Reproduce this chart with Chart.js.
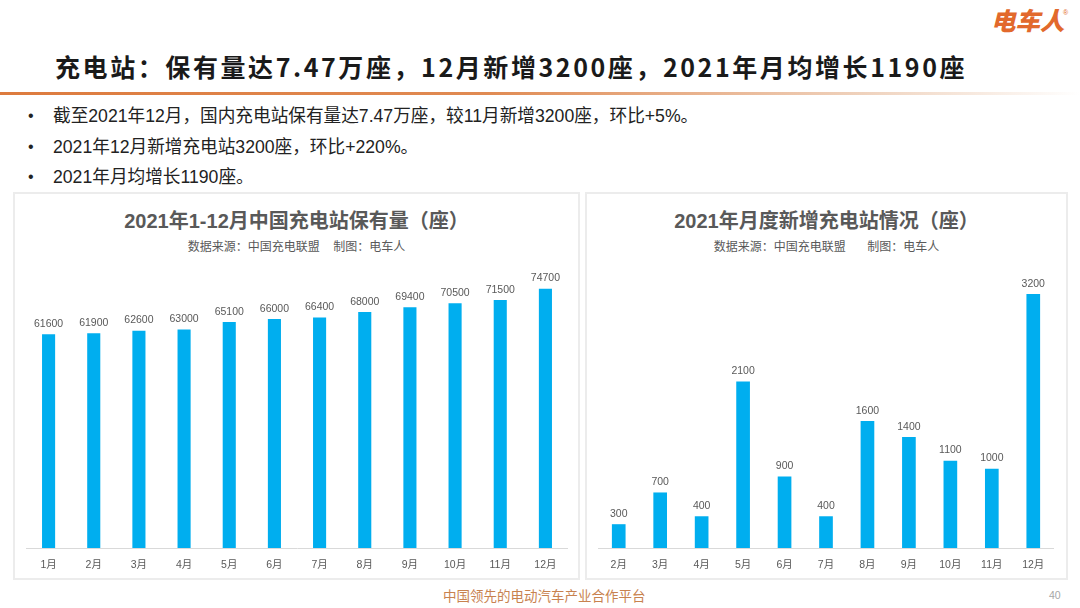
<!DOCTYPE html>
<html>
<head>
<meta charset="utf-8">
<script src="https://cdn.jsdelivr.net/npm/chart.js@4"></script>
<style>
  html, body { margin: 0; padding: 0; background: #fff; }
  body { width: 1080px; height: 608px; position: relative; overflow: hidden; font-family: "Liberation Sans", "Noto Sans CJK SC", sans-serif; }
  .abs { position: absolute; white-space: nowrap; }
  #logo { left: 991px; top: 2px; font: italic 900 24.5px "Noto Sans CJK SC"; color: #e2692c; }
  #logo sup { font: 7px "Liberation Sans"; position: absolute; left: 72px; top: 7px; }
  #pageTitle { left: 55px; top: 48px; font: 700 25px "Noto Sans CJK SC"; color: #1a1a1a; letter-spacing: 2.58px; line-height: 36px; }
  #rule { left: 0; top: 92px; width: 1080px; height: 3px; background: linear-gradient(to right, #dd7b3e 0%, #e08a52 45%, #efd2bd 80%, #fff 100%); }
  .bullet { left: 53px; font-size: 17.65px; color: #222; line-height: 22px; font-family: "Liberation Sans", "Noto Sans CJK SC"; }
  .dot { left: 28px; font-size: 16px; color: #222; line-height: 22px; }
  .panel { border: 2px solid #ececec; box-sizing: border-box; top: 192px; height: 388px; }
  #panelA { left: 13px; width: 567px; }
  #panelB { left: 585px; width: 483px; }
  .chartTitle { font: 700 20px "Liberation Sans", "Noto Sans CJK SC"; color: #595959; top: 208px; line-height: 26px; text-align: center; }
  .chartSub { font-size: 12px; color: #595959; top: 239px; line-height: 16px; text-align: center; }
  canvas { position: absolute; }
  #slogan { left: 443px; top: 589px; font-size: 13.5px; color: #c8824f; line-height: 16px; }
  #pageNo { left: 1049px; top: 588px; font-size: 10.5px; color: #a6a6a6; line-height: 14px; }
</style>
</head>
<body>
<div class="abs" id="logo">电车人<sup>®</sup></div>
<div class="abs" id="pageTitle">充电站：保有量达7.47万座，12月新增3200座，2021年月均增长1190座</div>
<div class="abs" id="rule"></div>

<div class="abs dot" style="top:105px">•</div>
<div class="abs bullet" style="top:105px">截至2021年12月，国内充电站保有量达7.47万座，较11月新增3200座，环比+5%。</div>
<div class="abs dot" style="top:136px">•</div>
<div class="abs bullet" style="top:136px">2021年12月新增充电站3200座，环比+220%。</div>
<div class="abs dot" style="top:166px">•</div>
<div class="abs bullet" style="top:166px">2021年月均增长1190座。</div>

<div class="abs panel" id="panelA"></div>
<div class="abs panel" id="panelB"></div>

<div class="abs chartTitle" style="left:13px;width:567px">2021年1-12月中国充电站保有量（座）</div>
<div class="abs chartSub" style="left:13px;width:567px">数据来源：中国充电联盟&nbsp;&nbsp;&nbsp;&nbsp;制图：电车人</div>
<div class="abs chartTitle" style="left:585px;width:483px">2021年月度新增充电站情况（座）</div>
<div class="abs chartSub" style="left:585px;width:483px;word-spacing:1px">数据来源：中国充电联盟&nbsp;&nbsp;&nbsp;&nbsp;&nbsp;制图：电车人</div>

<canvas id="stockChart" style="left:26px;top:260px;width:542px;height:316px"></canvas>
<canvas id="newChart" style="left:598px;top:260px;width:456px;height:316px"></canvas>

<div class="abs" id="slogan">中国领先的电动汽车产业合作平台</div>
<div class="abs" id="pageNo">40</div>

<script>
const stockMonths = ['1月', '2月', '3月', '4月', '5月', '6月', '7月', '8月', '9月', '10月', '11月', '12月'];
const stockValues = [61600, 61900, 62600, 63000, 65100, 66000, 66400, 68000, 69400, 70500, 71500, 74700];
const newMonths = ['2月', '3月', '4月', '5月', '6月', '7月', '8月', '9月', '10月', '11月', '12月'];
const newValues = [300, 700, 400, 2100, 900, 400, 1600, 1400, 1100, 1000, 3200];

// value labels above each bar
const valueLabels = {
    id: 'valueLabels',
    afterDatasetsDraw(chart) {
        const ctx = chart.ctx;
        const meta = chart.getDatasetMeta(0);
        ctx.save();
        ctx.font = '10.5px "Liberation Sans"';
        ctx.fillStyle = '#595959';
        ctx.textAlign = 'center';
        ctx.textBaseline = 'bottom';
        meta.data.forEach((bar, i) => {
            ctx.fillText(chart.data.datasets[0].data[i], bar.x, bar.y - 5);
        });
        ctx.restore();
    }
};

function makeBars(id, labels, values, yMax, barPct) {
    new Chart(document.getElementById(id).getContext('2d'), {
        type: 'bar',
        data: {
            labels: labels,
            datasets: [{
                data: values,
                backgroundColor: '#00aeef',
                categoryPercentage: 1,
                barPercentage: barPct
            }]
        },
        options: {
            responsive: false,
            animation: false,
            devicePixelRatio: 1,
            layout: { padding: 0 },
            plugins: { legend: { display: false }, tooltip: { enabled: false } },
            scales: {
                y: { display: false, min: 0, max: yMax },
                x: {
                    grid: { display: false },
                    border: { color: '#d9d9d9' },
                    afterFit(scale) { scale.height = 28; },
                    ticks: {
                        color: '#595959',
                        font: { family: '"Liberation Sans", "Noto Sans CJK SC"', size: 10.5 },
                        maxRotation: 0,
                        autoSkip: false,
                        padding: 3
                    }
                }
            }
        },
        plugins: [valueLabels]
    });
}

const canvasA = document.getElementById('stockChart');
canvasA.width = 542; canvasA.height = 316;
const canvasB = document.getElementById('newChart');
canvasB.width = 456; canvasB.height = 316;

makeBars('stockChart', stockMonths, stockValues, 83000, 0.29);
makeBars('newChart', newMonths, newValues, 3630, 0.33);
</script>
</body>
</html>
